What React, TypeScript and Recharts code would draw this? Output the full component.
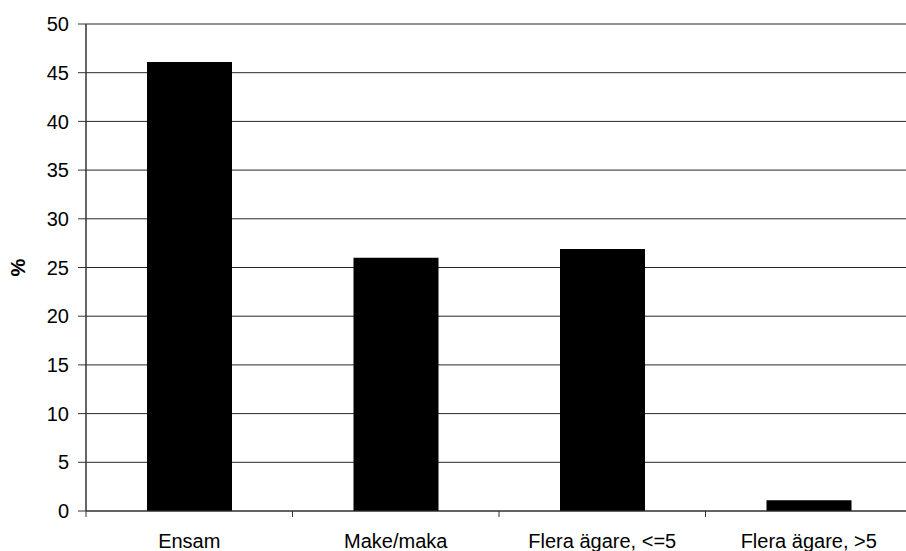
import React from 'react';
import { BarChart, Bar, XAxis, YAxis, CartesianGrid } from 'recharts';

const categories = ['Ensam', 'Make/maka', 'Flera ägare, <=5', 'Flera ägare, >5'];
const percent = [46.1, 26.0, 26.9, 1.1];
const yTicks = [0, 5, 10, 15, 20, 25, 30, 35, 40, 45, 50];

const data = categories.map((name, i) => ({ name, value: percent[i] }));

const FONT = '"Liberation Sans", Arial, sans-serif';
const PLOT_W = 826;
const HALF_BAND = PLOT_W / categories.length / 2;

function CategoryTick(props: any) {
  const { x, y, payload, index } = props;
  const last = index === categories.length - 1;
  return (
    <g>
      <line x1={x - HALF_BAND} x2={x - HALF_BAND} y1={y} y2={y + 6} stroke="#333" />
      {last && <line x1={x + HALF_BAND} x2={x + HALF_BAND} y1={y} y2={y + 6} stroke="#333" />}
      <text x={x} y={y + 37} textAnchor="middle" fontSize={20} fontFamily={FONT} fill="#000">
        {payload.value}
      </text>
    </g>
  );
}

function PercentLabel(props: any) {
  const { viewBox } = props;
  const cy = viewBox.y + viewBox.height / 2;
  return (
    <text
      x={18}
      y={cy}
      transform={`rotate(-90, 18, ${cy})`}
      textAnchor="middle"
      dominantBaseline="central"
      fontSize={20}
      fontWeight="bold"
      fontFamily={FONT}
      fill="#000"
    >
      %
    </text>
  );
}

export default function App() {
  return (
    <div style={{ position: 'absolute', left: 0, top: 0, width: 906, height: 551, overflow: 'hidden', background: '#fff' }}>
      <BarChart
        width={912}
        height={551}
        data={data}
        margin={{ top: 24, right: 0, bottom: 0, left: 0 }}
      >
        <CartesianGrid horizontal vertical={false} stroke="#000" strokeOpacity={0.85} />
        <XAxis
          dataKey="name"
          height={40}
          tickLine={false}
          tickSize={0}
          tickMargin={0}
          interval={0}
          axisLine={{ stroke: '#333' }}
          tick={<CategoryTick />}
        />
        <YAxis
          width={86}
          domain={[0, 50]}
          ticks={yTicks}
          interval={0}
          tickSize={8}
          tickMargin={9}
          axisLine={{ stroke: '#333', strokeWidth: 1.5 }}
          tickLine={{ stroke: '#333' }}
          tick={{ fontSize: 20, fontFamily: FONT, fill: '#000' }}
          label={<PercentLabel />}
        />
        <Bar dataKey="value" fill="#000" barSize={85} isAnimationActive={false} />
      </BarChart>
    </div>
  );
}
